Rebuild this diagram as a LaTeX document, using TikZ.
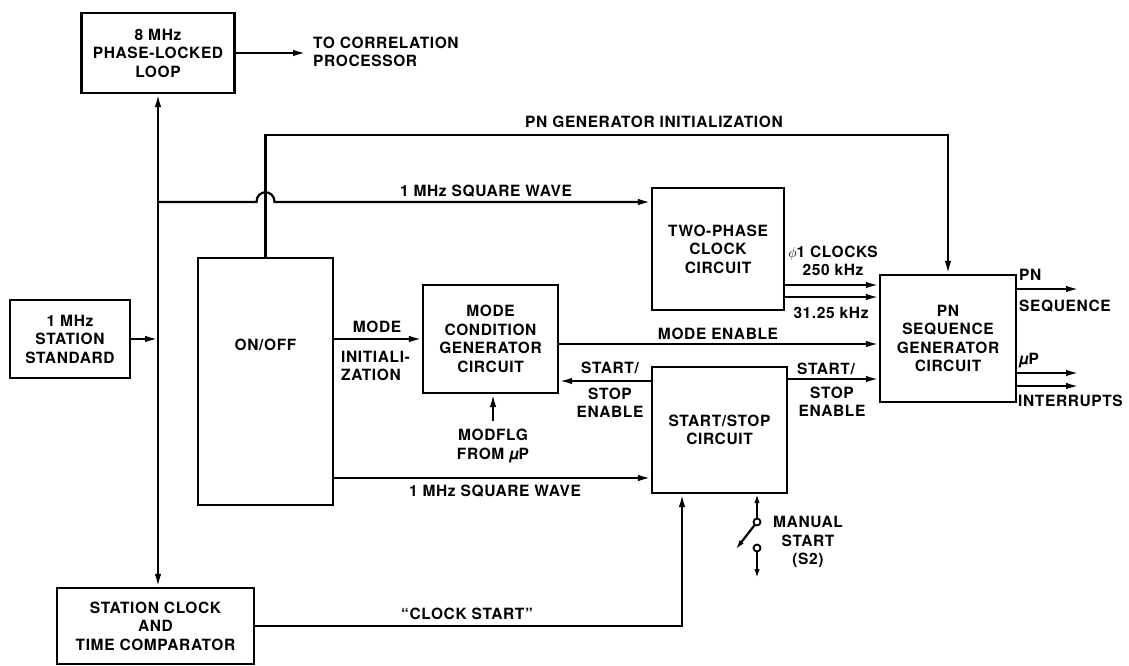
\documentclass[tikz,border=0pt]{standalone}
\usepackage{fontspec}
\setmainfont[LetterSpace=4]{TeX Gyre Heros}
\usetikzlibrary{arrows.meta,calc}
\begin{document}
\begin{tikzpicture}[x=1pt,y=-1pt,
  every node/.style={font=\fontsize{15.5}{18.5}\selectfont\bfseries, inner sep=0pt, align=center},
  blk/.style={draw, line width=2.2pt},
  wire/.style={line width=2.2pt},
  arr/.style={wire,-{Latex[length=13pt,width=6.5pt]}},
  sarr/.style={wire,-{Latex[length=9pt,width=5.5pt]}},
  dbl/.style={wire,{Latex[length=13pt,width=6.5pt]}-{Latex[length=13pt,width=6.5pt]}},
]
\useasboundingbox (0,0) rectangle (1129,666);

% blocks
\node[blk, minimum width=153pt, minimum height=80pt] (pll) at (158,53) {8 MHz\\PHASE-LOCKED\\LOOP};
\node[blk, minimum width=120pt, minimum height=78pt] (std) at (70,339) {1 MHz\\STATION\\STANDARD};
\node[blk, minimum width=135pt, minimum height=247pt] (onoff) at (265.5,381.5) {};
\node (onofft) at (265.5,345) {ON/OFF};
\node[blk, minimum width=132pt, minimum height=122pt] (two) at (718,249) {TWO-PHASE\\CLOCK\\CIRCUIT};
\node[blk, minimum width=135pt, minimum height=108pt] (mode) at (490.5,339) {MODE\\CONDITION\\GENERATOR\\CIRCUIT};
\node[blk, minimum width=135pt, minimum height=126pt] (ss) at (719.5,430) {START/STOP\\CIRCUIT};
\node[blk, minimum width=136pt, minimum height=127pt] (pn) at (948,338.5) {PN\\SEQUENCE\\GENERATOR\\CIRCUIT};
\node[blk, minimum width=197pt, minimum height=76pt] (sclk) at (155.5,626) {STATION CLOCK\\AND\\TIME COMPARATOR};

% PLL output
\coordinate (tocorr) at (306,53);
\draw[arr] (pll.east) -- (tocorr);
\node[anchor=west, align=left] (tocorrt) at (313,52) {TO CORRELATION\\PROCESSOR};

% bus
\draw[dbl] (pll.south) -- (pll.south |- sclk.north);
\draw[arr] (std.east) -- (std.east -| pll.south);

% 1 MHz square wave (top) with hop
\coordinate (sq1) at (158,202);
\draw[arr] (sq1) -- (256.5,202) .. controls (256.5,189) and (274.5,189) .. (274.5,202) -- (sq1 -| two.west);
\node (sq1t) at (486,191) {1 MHz SQUARE WAVE};

% PN generator initialization
\coordinate (initc) at (265.5,135);
\draw[arr] (onoff.north) -- (initc) -| (pn.north);
\node (initt) at (654,122) {PN GENERATOR INITIALIZATION};

% mode initialization
\draw[arr] (onoff.east |- mode.west) -- (mode.west);
\node (modet) at (377,327) {MODE};
\node[anchor=west, align=left] (initzt) at (341,366) {INITIALI-\\ZATION};

% 1 MHz square wave (bottom)
\draw[arr] (onoff.east |- 0,478) -- (ss.west |- 0,478);
\node (sq2t) at (495,491) {1 MHz SQUARE WAVE};

% mode enable
\coordinate (me) at ($(mode.east)+(0,5)$);
\draw[arr] (me) -- (me -| pn.west);
\node (met) at (718,334) {MODE ENABLE};

% start/stop enable (left)
\draw[arr] (ss.west |- 0,381) -- (mode.east |- 0,381);
\node (sel1) at (610,368) {START/};
\node (sel2) at (610,403) {STOP\\ENABLE};

% start/stop enable (right)
\draw[arr] (ss.east |- 0,379) -- (pn.west |- 0,379);
\node (ser1) at (826,369) {START/};
\node (ser2) at (832,402) {STOP\\ENABLE};

% clocks
\draw[arr] (two.east |- 0,285) -- (pn.west |- 0,285);
\draw[arr] (two.east |- 0,297) -- (pn.west |- 0,297);
\node (clk1) at (833,261) {$\phi$1 CLOCKS\\250 kHz};
\node (clk2) at (831,313) {31.25 kHz};

% outputs
\coordinate (o1) at (1079,289);
\coordinate (o2) at (1079,373);
\coordinate (o3) at (1079,386);
\draw[arr] (pn.east |- o1) -- (o1);
\draw[arr] (pn.east |- o2) -- (o2);
\draw[arr] (pn.east |- o3) -- (o3);
\node[anchor=west] (pnt) at (1019,275) {PN};
\node[anchor=west] (seqt) at (1019,306) {SEQUENCE};
\node[anchor=west] (upt) at (1019,361) {{\itshape µ}P};
\node[anchor=west] (intt) at (1018,401) {INTERRUPTS};

% MODFLG
\node (modflg) at (493,446) {MODFLG\\FROM {\itshape µ}P};
\draw[arr] ([yshift=8pt]modflg.north) -- (modflg.north |- mode.south);

% clock start
\coordinate (csc) at (682,626);
\draw[arr] (sclk.east) -- (csc) -- (csc |- ss.south);
\node (cst) at (467,614) {“CLOCK START”};

% manual start switch
\coordinate (sw1) at (757,522);
\coordinate (sw2) at (757,548);
\coordinate (swb) at (736,549);
\coordinate (swd) at (757,578);
\draw[sarr] (sw1) -- (sw1 |- ss.south);
\draw[sarr] (sw1) -- (swb);
\draw[sarr] (sw2) -- (swd);
\filldraw[fill=white, line width=1.8pt] (sw1) circle (3.5);
\filldraw[fill=white, line width=1.8pt] (sw2) circle (3.5);
\node (mant) at (808,542) {MANUAL\\START\\(S2)};
\end{tikzpicture}
\end{document}
